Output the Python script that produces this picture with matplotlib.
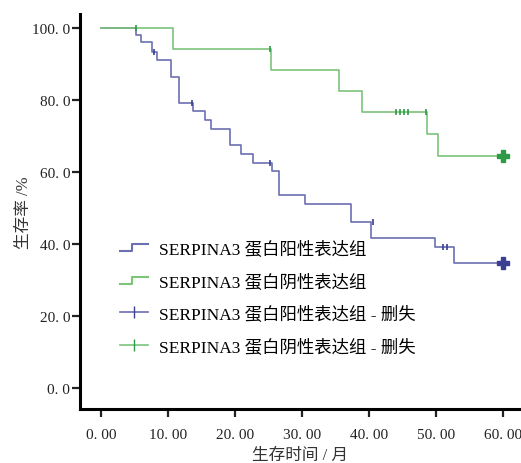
import matplotlib
matplotlib.use("Agg")
import matplotlib.pyplot as plt
import numpy as np
from matplotlib.lines import Line2D
from matplotlib.legend_handler import HandlerBase

plt.rcParams["font.family"] = ["Liberation Serif", "Noto Sans CJK SC"]

# Kaplan-Meier curves (months, survival %)
pos_t = [0, 5.3, 6.0, 7.7, 8.4, 10.5, 11.6, 13.7, 15.5, 16.5, 19.2, 20.9,
         22.7, 25.6, 26.6, 30.4, 37.3, 40.3, 49.9, 52.7, 60]
pos_s = [100, 98.2, 96.2, 93.4, 91.0, 86.5, 79.2, 77.0, 74.5, 72.0, 67.4, 65.1,
         62.6, 60.4, 53.7, 51.0, 46.2, 41.8, 39.3, 34.7, 34.7]
neg_t = [0, 10.7, 25.4, 35.6, 39.0, 48.7, 50.3, 60]
neg_s = [100, 94.2, 88.3, 82.4, 76.6, 70.6, 64.5, 64.5]

# censored observations
pos_cens_t = [7.9, 13.6, 25.3, 40.6, 51.0, 51.6]
pos_cens_s = [93.4, 79.2, 62.6, 46.2, 39.3, 39.3]
neg_cens_t = [5.3, 25.2, 44.0, 44.6, 45.2, 45.8, 48.5]
neg_cens_s = [100, 94.2, 76.6, 76.6, 76.6, 76.6, 76.6]

xticks = [0, 10, 20, 30, 40, 50, 60]
xticklabels = ["0. 00", "10. 00", "20. 00", "30. 00", "40. 00", "50. 00", "60. 00"]
yticks = [0, 20, 40, 60, 80, 100]
yticklabels = ["0. 0", "20. 0", "40. 0", "60. 0", "80. 0", "100. 0"]

labels = ["SERPINA3 蛋白阳性表达组", "SERPINA3 蛋白阴性表达组",
          "SERPINA3 蛋白阳性表达组 - 删失", "SERPINA3 蛋白阴性表达组 - 删失"]

blue = "#6c70b2"
blue_dark = "#3a3f92"
green = "#7cc47a"
green_dark = "#2f9a45"

fig = plt.figure(figsize=(5.21, 4.64), dpi=100)
ax = fig.add_axes([0.1536, 0.1164, 0.844, 0.8513])

ax.plot(pos_t, pos_s, drawstyle="steps-post", color=blue, lw=1.2)
ax.plot(neg_t, neg_s, drawstyle="steps-post", color=green, lw=1.2)
ax.plot(pos_cens_t, pos_cens_s, ls="none", marker="|", ms=5, mew=1.2, color=blue_dark)
ax.plot(neg_cens_t, neg_cens_s, ls="none", marker="|", ms=5, mew=1.2, color=green_dark)
ax.plot(pos_t[-1], pos_s[-1], marker="P", ms=8, color=blue_dark, ls="none")
ax.plot(neg_t[-1], neg_s[-1], marker="P", ms=8, color=green_dark, ls="none")

ax.set_xlim(-3.1, 62.5)
ax.set_ylim(-5.8, 103.9)
ax.set_xticks(xticks)
ax.set_xticklabels(xticklabels)
ax.set_yticks(yticks)
ax.set_yticklabels(yticklabels)
for s in ["top", "right"]:
    ax.spines[s].set_visible(False)
for s in ["left", "bottom"]:
    ax.spines[s].set_linewidth(2.2)
ax.tick_params(axis="both", direction="out", length=6, width=1.6, labelsize=11,
               colors="#222222")
ax.tick_params(axis="x", pad=8)
ax.tick_params(axis="y", pad=1)

ax.set_xlabel("生存时间 / 月", fontsize=12, labelpad=4, color="#333333")
ax.set_ylabel("生存率 /%", fontsize=12, labelpad=0, color="#333333")


class StepHandler(HandlerBase):
    def create_artists(self, legend, orig_handle, xdescent, ydescent,
                       width, height, fontsize, trans):
        x = np.array([0, 0.45, 0.45, 1.0]) * width - xdescent
        y = np.array([0.15, 0.15, 0.75, 0.75]) * height - ydescent
        line = Line2D(x, y, color=orig_handle.get_color(),
                      lw=orig_handle.get_linewidth(), transform=trans)
        return [line]


h1 = Line2D([], [], color=blue, lw=1.5)
h2 = Line2D([], [], color=green, lw=1.5)
h3 = Line2D([], [], color=blue, lw=1.2, marker="|", ms=9, mec=blue_dark)
h4 = Line2D([], [], color=green, lw=1.2, marker="|", ms=9, mec=green_dark)
ax.legend([h1, h2, h3, h4], labels, loc="upper left",
          bbox_to_anchor=(0.075, 0.445), frameon=False, fontsize=12.5,
          borderaxespad=0, handlelength=1.6, handletextpad=0.65,
          labelspacing=0.9,
          handler_map={h1: StepHandler(), h2: StepHandler()})

fig.savefig("out.png", dpi=100)
